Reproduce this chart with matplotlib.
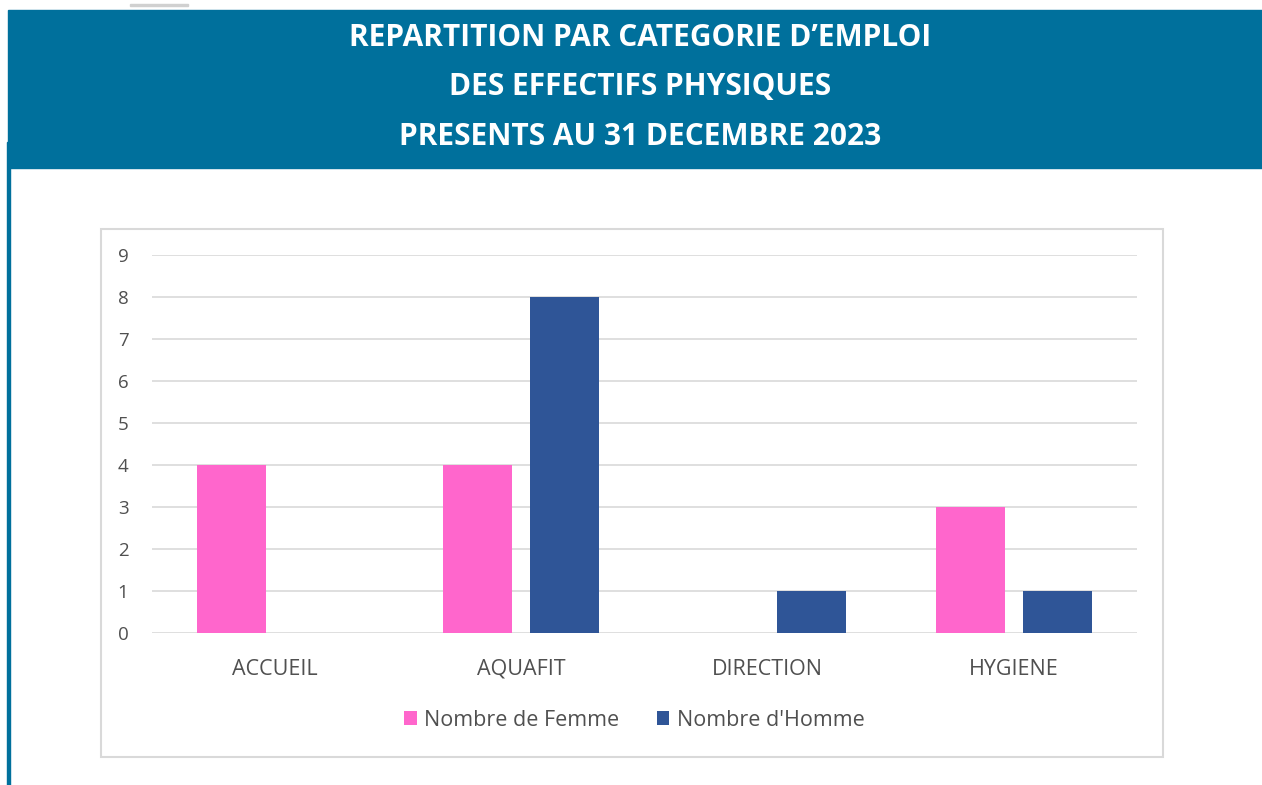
import matplotlib.pyplot as plt
import matplotlib.patches as mpatches
import numpy as np

# Data
categories = ["ACCUEIL", "AQUAFIT", "DIRECTION", "HYGIENE"]
femmes = [4, 4, 0, 3]
hommes = [0, 8, 1, 1]
title_lines = ["REPARTITION PAR CATEGORIE D\u2019EMPLOI",
               "DES EFFECTIFS PHYSIQUES",
               "PRESENTS AU 31 DECEMBRE 2023"]

W, H = 1262, 785
fig = plt.figure(figsize=(W / 100, H / 100), dpi=100)
plt.rcParams['font.family'] = ['Open Sans', 'DejaVu Sans']

# header band and left border
fig.patches.append(mpatches.Rectangle((8 / W, 1 - 168 / H), 1 - 8 / W, 158 / H,
                                      transform=fig.transFigure, color="#00709C", zorder=-1))
fig.patches.append(mpatches.Rectangle((6.5 / W, 0), 3 / W, 1 - 142 / H,
                                      transform=fig.transFigure, color="#00709C", zorder=-1))
fig.patches.append(mpatches.Rectangle((130 / W, 1 - 6 / H), 58 / W, 2 / H,
                                      transform=fig.transFigure, color="#D0D0D0", zorder=-1))
for i, line in enumerate(title_lines):
    fig.text(640 / W, 1 - (38 + 49.5 * i) / H, line, ha="center", va="center",
             color="white", fontsize=21.5, fontweight="bold")

# chart frame
fig.patches.append(mpatches.Rectangle((101 / W, 1 - 757 / H), 1062 / W, 528 / H,
                                      transform=fig.transFigure, facecolor="white",
                                      edgecolor="#D9D9D9", linewidth=1.5, zorder=-1))

ax = fig.add_axes([152 / W, 1 - 633 / H, 985 / W, 378 / H])
ax.set_zorder(2)
x = np.arange(len(categories))
w = 0.28
off = 0.177
ax.bar(x - off, femmes, w, color="#FF66CC", label="Nombre de Femme", zorder=3)
ax.bar(x + off, hommes, w, color="#2F5597", label="Nombre d'Homme", zorder=3)

ax.set_xlim(-0.5, len(categories) - 0.5)
ax.set_ylim(0, 9)
ax.set_yticks(range(0, 10))
ax.yaxis.grid(True, color="#D9D9D9", linewidth=1.2, zorder=0)
for s in ax.spines.values():
    s.set_visible(False)
ax.tick_params(axis="both", length=0, labelcolor="#505050")
ax.tick_params(axis="y", pad=17, labelsize=13.5)
ax.tick_params(axis="x", pad=30, labelsize=15.5)
ax.set_xticks(x)
ax.set_xticklabels(categories, va="baseline")
ax.set_facecolor("none")

ax.legend(loc="center", bbox_to_anchor=(634 / W, 1 - 720 / H), bbox_transform=fig.transFigure,
          ncol=2, frameon=False, fontsize=15.5, labelcolor="#505050",
          handlelength=0.6, handleheight=0.6, handletextpad=0.33, columnspacing=1.75)

fig.savefig("out.png", dpi=100)
